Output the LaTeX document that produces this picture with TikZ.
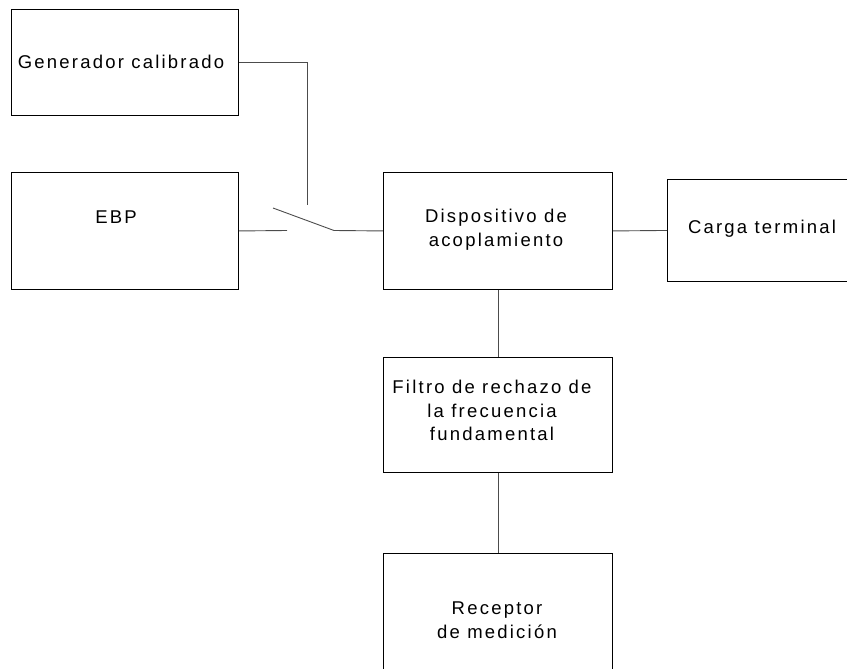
\documentclass[tikz,border=0pt]{standalone}
\usepackage{fontspec}
\setmainfont{Liberation Sans}[LetterSpace=12]
\begin{document}
\begin{tikzpicture}[x=1pt,y=-1pt,
  box/.style={draw=black,line width=0.9pt,minimum width=#1,inner sep=0pt,anchor=north west},
  lbl/.style={font=\fontsize{18.5}{23.8}\selectfont,align=center,inner sep=0pt},
  wire/.style={draw=black!70,line width=0.9pt}]
\useasboundingbox (0,0) rectangle (847,669);
\node[box=227pt,minimum height=106pt] (gen) at (11,9) {};
\node[box=227pt,minimum height=117pt] (ebp) at (11,172) {};
\node[box=229pt,minimum height=117pt] (disp) at (383,172) {};
\node[box=182pt,minimum height=102pt] (carga) at (667,179) {};
\node[box=229pt,minimum height=115pt] (filt) at (383,357) {};
\node[box=229pt,minimum height=120pt] (rec) at (383,553) {};
\node[lbl] (tgen) at (121,62) {Generador calibrado};
\node[lbl] (tebp) at (116,217) {EBP};
\node[lbl] (tdisp) at (496,230) {Dispositivo de\\acoplamiento};
\node[lbl] (tcarga) at (762,229) {Carga terminal};
\node[lbl] (tfilt) at (492,410.5) {Filtro de rechazo de\\la frecuencia\\fundamental};
\node[lbl] (trec) at (497,620) {Receptor\\de medición};
\coordinate (top) at (307,205);
\coordinate (sa) at (287,230.5);
\coordinate (bl) at (273,208);
\coordinate (br) at (334,230.5);
\draw[wire] (gen.east) -| (top);
\draw[wire] (ebp.east) -- (sa);
\draw[wire] (bl) -- (br) -- (disp.west);
\draw[wire] (disp.east) -- (carga.west);
\draw[wire] (disp.south) -- (filt.north);
\draw[wire] (filt.south) -- (rec.north);
\end{tikzpicture}
\end{document}
